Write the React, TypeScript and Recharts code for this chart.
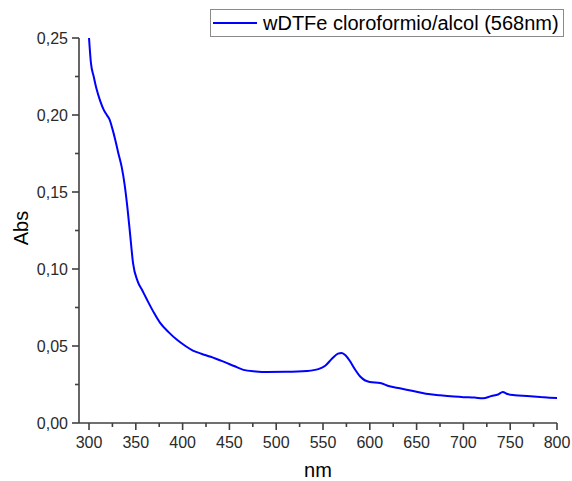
import { LineChart, Line, XAxis, YAxis } from "recharts";

// spectrum (nm, Abs)
const WAVELENGTH = [
  300, 302, 305, 308, 312, 316, 319, 322, 325, 328, 331, 335, 338, 341, 344, 347,
  352, 357, 362, 369, 376, 385, 394, 403, 411, 420, 430, 443, 455, 465, 478, 490,
  510, 533, 545, 552, 560, 566, 570, 574, 579, 584, 590, 600, 611, 620, 632, 645,
  660, 675, 690, 700, 712, 721, 730, 737, 742, 747, 755, 768, 782, 792, 800,
];
const ABS = [
  0.25, 0.234, 0.225, 0.217, 0.209, 0.203, 0.2, 0.197, 0.191, 0.184, 0.176, 0.166, 0.155, 0.14, 0.122, 0.104,
  0.092, 0.086, 0.08, 0.072, 0.065, 0.059, 0.054, 0.05, 0.047, 0.045, 0.043, 0.04, 0.037, 0.0345, 0.0335, 0.0331,
  0.0332, 0.0338, 0.035, 0.037, 0.042, 0.045, 0.0455, 0.044, 0.04, 0.035, 0.03, 0.0266, 0.026, 0.024, 0.0225, 0.021,
  0.019, 0.018, 0.0172, 0.0168, 0.0165, 0.016, 0.0175, 0.0185, 0.0201, 0.0188, 0.018, 0.0175, 0.0169, 0.0164, 0.0163,
];
const SERIES_NAME = "wDTFe cloroformio/alcol (568nm)";
const X_TICKS = [300, 325, 350, 375, 400, 425, 450, 475, 500, 525, 550, 575, 600, 625, 650, 675, 700, 725, 750, 775, 800];
const Y_TICKS = [0, 0.025, 0.05, 0.075, 0.1, 0.125, 0.15, 0.175, 0.2, 0.225, 0.25];

const data = WAVELENGTH.map((nm, i) => ({ nm, abs: ABS[i] }));

const FONT = "'Liberation Sans', Arial, sans-serif";
const AXIS = "#404040";
const TXT = "#2a2a2a";
const W = 572;
const H = 481;

const isMult = (v: number, step: number) => Math.abs(v / step - Math.round(v / step)) < 1e-6;

function XTick({ x, y, payload }: any) {
  const v = payload?.value ?? 0;
  const major = isMult(v, 50);
  return (
    <g>
      <line x1={x} x2={x} y1={y} y2={y + (major ? 7 : 4)} stroke={AXIS} strokeWidth={1.6} />
      {major && (
        <text x={x} y={y + 25} textAnchor="middle" fontSize={16} fontFamily={FONT} fill={TXT}>
          {v}
        </text>
      )}
    </g>
  );
}

function YTick({ x, y, payload }: any) {
  const v = payload?.value ?? 0;
  const major = isMult(v, 0.05);
  return (
    <g>
      <line x1={x} x2={x - (major ? 7 : 4)} y1={y} y2={y} stroke={AXIS} strokeWidth={1.6} />
      {major && (
        <text x={x - 11} y={y + 6} textAnchor="end" fontSize={16} fontFamily={FONT} fill={TXT}>
          {v.toFixed(2).replace(".", ",")}
        </text>
      )}
    </g>
  );
}

export default function App() {
  return (
    <div style={{ position: "absolute", left: 0, top: 0, width: W, height: H, background: "#fff" }}>
      <LineChart width={W} height={H} data={data} margin={{ top: 38, right: 15, left: 0, bottom: 0 }}>
        <XAxis
          dataKey="nm"
          type="number"
          domain={[289.3, 800]}
          ticks={X_TICKS}
          interval={0}
          allowDataOverflow
          height={58}
          tickSize={0}
          tickMargin={0}
          tick={(p: any) => <XTick {...p} />}
          axisLine={{ stroke: AXIS, strokeWidth: 1.6 }}
          tickLine={false}
        />
        <YAxis
          type="number"
          domain={[0, 0.25]}
          ticks={Y_TICKS}
          interval={0}
          allowDataOverflow
          width={79}
          tickSize={0}
          tickMargin={0}
          tick={(p: any) => <YTick {...p} />}
          axisLine={{ stroke: AXIS, strokeWidth: 1.6 }}
          tickLine={false}
        />
        <Line
          dataKey="abs"
          name={SERIES_NAME}
          type="monotone"
          stroke="#0000ff"
          strokeWidth={2}
          dot={false}
          isAnimationActive={false}
        />
      </LineChart>

      {/* titles + legend drawn on top */}
      <svg width={W} height={H} style={{ position: "absolute", left: 0, top: 0, pointerEvents: "none" }}>
        <text x={318} y={477} textAnchor="middle" fontSize={20} fontFamily={FONT} fill="#000">nm</text>
        <text
          x={0}
          y={0}
          transform="translate(28,228) rotate(-90)"
          textAnchor="middle"
          fontSize={20}
          fontFamily={FONT}
          fill="#000"
        >
          Abs
        </text>
        <rect x={210.5} y={9.5} width={353} height={27} fill="#fff" stroke="#8a8a8a" strokeWidth={1} />
        <line x1={213} x2={257} y1={23} y2={23} stroke="#0000ff" strokeWidth={2} />
        <text x={263} y={30} fontSize={20} fontFamily={FONT} fill="#000">{SERIES_NAME}</text>
      </svg>
    </div>
  );
}
